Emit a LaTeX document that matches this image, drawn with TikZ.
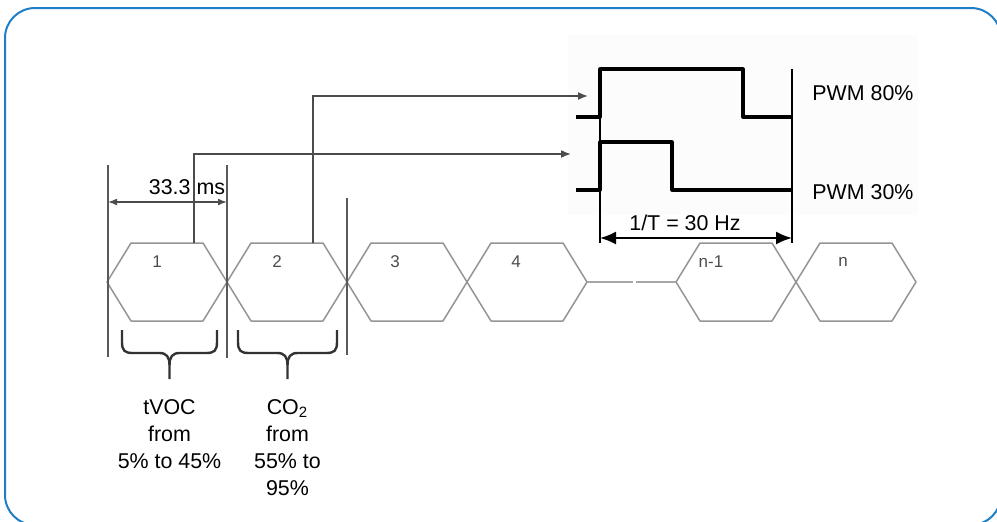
\documentclass[tikz,border=0pt]{standalone}
\usepackage{fontspec}
\setmainfont{Liberation Sans}
\usetikzlibrary{arrows.meta, positioning}

\definecolor{frameblue}{HTML}{1F7FC6}
\definecolor{pastebg}{HTML}{FCFCFC}

\tikzset{
  hexline/.style={draw=black!42, line width=0.75pt, line join=round},
  cellno/.style={font=\fontsize{8.5}{10}\selectfont, text=black!70, inner sep=0pt},
  marker/.style={draw=black!65, line width=1pt},
  link/.style={draw=black!70, line width=0.8pt, -{Latex[length=5pt,width=4pt]}},
  wave/.style={draw=black, line width=1.6pt, line join=round},
  guide/.style={draw=black, line width=0.7pt},
  txt/.style={font=\fontsize{10.7}{13.5}\selectfont, inner sep=0pt},
  note/.style={txt, align=center, anchor=north},
  bracket/.style={draw=black!80, line width=1.2pt, line join=round}
}

\begin{document}
\begin{tikzpicture}[x=0.5pt, y=-0.5pt]
  \useasboundingbox (0,0) rectangle (997,521);
  % frame
  \draw[frameblue, line width=1pt, rounded corners=15pt] (5,8) rectangle (1001,525);
  % pasted waveform background
  \fill[pastebg] (568,35) rectangle (918,215);

  % frame cells
  \foreach \x/\lab/\lx/\nm in {107/1/157/h1, 227/2/277/h2, 347/3/395/h3, 467/4/516/h4, 676/n-1/711/h5, 796/n/843/h6} {
    \draw[hexline] (\x,282) -- (\x+24,243) -- (\x+96,243) -- (\x+120,282) -- (\x+96,321) -- (\x+24,321) -- cycle;
    \coordinate (\nm-w) at (\x,282);
    \coordinate (\nm-e) at (\x+120,282);
    \node[cellno] (\nm) at (\lx,262) {\lab};
  }
  \draw[draw=black!35, line width=0.75pt, dash pattern=on 23pt off 1.5pt] (h4-e) -- (h5-w);

  % cell borders
  \coordinate (v1t) at (108,165); \coordinate (v1b) at (108,357);
  \coordinate (v2t) at (227,165); \coordinate (v2b) at (227,358);
  \coordinate (v3t) at (347,198); \coordinate (v3b) at (347,355);
  \draw[marker] (v1t) -- (v1b);
  \draw[marker] (v2t) -- (v2b);
  \draw[marker] (v3t) -- (v3b);

  % 33.3 ms
  \coordinate (d1a) at (108,202); \coordinate (d1b) at (227,202);
  \draw[draw=black!70, line width=0.8pt, {Latex[length=4.5pt,width=3.5pt]}-{Latex[length=4.5pt,width=3.5pt]}] (d1a) -- (d1b);
  \node[txt] (tcyc) at (187,187) {33.3 ms};

  % PWM outputs
  \draw[wave] (576,117) -- (600,117) -- (600,69) -- (743,69) -- (743,117) -- (792,117);
  \draw[wave] (576,190) -- (600,190) -- (600,142) -- (672,142) -- (672,190) -- (792,190);
  \coordinate (p0t) at (600,69); \coordinate (p0b) at (600,243);
  \coordinate (p1t) at (792,69); \coordinate (p1b) at (792,243);
  \draw[guide] (p0t) -- (p0b);
  \draw[guide] (p1t) -- (p1b);
  \coordinate (d2a) at (600,238); \coordinate (d2b) at (792,238);
  \draw[draw=black, line width=1pt, {Latex[length=8pt,width=6.5pt]}-{Latex[length=8pt,width=6.5pt]}] (d2a) -- (d2b);
  \node[txt] (freq) at (685,223) {1/T = 30 Hz};

  \coordinate (p80) at (792,93);
  \coordinate (p30) at (792,192);
  \node[txt, right=10pt of p80] (pwm80) {PWM 80\%};
  \node[txt, right=10pt of p30] (pwm30) {PWM 30\%};

  % links from cells to outputs
  \coordinate (t1) at (194,243);
  \coordinate (t2) at (313,243);
  \coordinate (in30) at (571,154);
  \coordinate (in80) at (588,96);
  \draw[link] (t1) |- (in30);
  \draw[link] (t2) |- (in80);

  % braces
  \foreach \a/\b/\nm in {122/217/b1, 238/337/b2} {
    \pgfmathsetmacro{\m}{(\a+\b)/2}
    \draw[bracket] (\a,330) -- (\a,342) .. controls (\a,351) and (\a+3,353) .. (\a+11,353) -- (\m-10,353) .. controls (\m-3,353) and (\m,357) .. (\m,365) -- (\m,379);
    \draw[bracket] (\b,330) -- (\b,342) .. controls (\b,351) and (\b-3,353) .. (\b-11,353) -- (\m+10,353) .. controls (\m+3,353) and (\m,357) .. (\m,365);
    \coordinate (\nm) at (\m,379);
  }
  \node[note, below=10pt of b1] (voc) {tVOC\\from\\5\% to 45\%};
  \node[note, below=10pt of b2] (co2) {CO\textsubscript{2}\\from\\55\% to\\95\%};
\end{tikzpicture}
\end{document}
